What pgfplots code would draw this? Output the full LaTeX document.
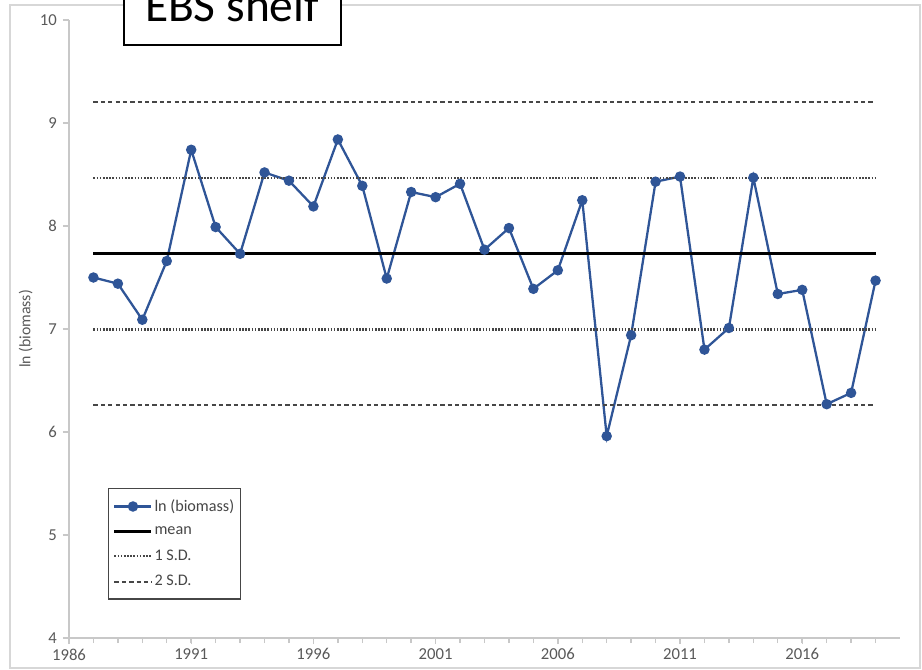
\documentclass[border=0pt]{standalone}
\usepackage{fontspec}
\setmainfont{Carlito}
\usepackage{pgfplots}
\pgfplotsset{compat=1.18}
\definecolor{serblue}{RGB}{47,85,151}
\definecolor{axgray}{RGB}{200,200,200}
\definecolor{lblgray}{RGB}{89,89,89}
\definecolor{sdgray}{RGB}{70,70,70}
\definecolor{framegray}{RGB}{215,215,215}

\begin{document}
\begin{tikzpicture}
% 1 px of the reference = 0.02cm, origin at top left
\path[use as bounding box, clip] (0,0) rectangle (18.44,-13.4);
\draw[framegray, line width=0.6pt] (0.2,-0.1) rectangle (18.4,-13.36);

\begin{axis}[
  at={(1.38cm,-12.76cm)}, anchor=south west,
  width=16.62cm, height=12.36cm, scale only axis,
  xmin=1986, xmax=2020, ymin=4, ymax=10,
  axis x line*=bottom, axis y line*=left,
  axis line style={draw=axgray, line width=0.8pt, -},
  xtick={1986,1991,1996,2001,2006,2011,2016},
  minor xtick={1987,...,2019},
  ytick={4,5,6,7,8,9,10},
  tick align=outside,
  major tick length=0.12cm, minor tick length=0.1cm,
  tick style={draw=axgray, line width=0.8pt},
  x tick label style={/pgf/number format/1000 sep={}, yshift=0.03cm},
  /pgf/number format/assume math mode=true,
  tick label style={font=\fontsize{9.5}{11}\selectfont, text=lblgray},
  ylabel={ln (biomass)},
  ylabel style={at={(axis description cs:-0.052,0.5)}, anchor=center,
    font=\fontsize{9}{11}\selectfont, text=lblgray},
  legend image code/.code={\draw[mark repeat=2,mark phase=2,#1]
    plot coordinates {(0cm,0cm)(0.37cm,0cm)(0.74cm,0cm)};},
  legend style={at={(rel axis cs:0.047,0.2427)}, anchor=north west,
    draw=sdgray, line width=0.8pt, font=\fontsize{9.2}{11}\selectfont,
    text=sdgray, row sep=3.2pt, inner xsep=2.5pt, inner ysep=4pt,
    nodes={inner xsep=1pt}},
  legend cell align=left,
  clip=false,
]
\addplot[serblue, line width=1.3pt, mark=*, mark size=2.3pt,
  mark options={fill=serblue, draw=serblue}] coordinates {
  (1987,7.50)(1988,7.44)(1989,7.09)(1990,7.66)(1991,8.74)(1992,7.99)
  (1993,7.73)(1994,8.52)(1995,8.44)(1996,8.19)(1997,8.84)(1998,8.39)
  (1999,7.49)(2000,8.33)(2001,8.28)(2002,8.41)(2003,7.77)(2004,7.98)
  (2005,7.39)(2006,7.57)(2007,8.25)(2008,5.96)(2009,6.94)(2010,8.43)
  (2011,8.48)(2012,6.80)(2013,7.01)(2014,8.47)(2015,7.34)(2016,7.38)
  (2017,6.27)(2018,6.38)(2019,7.47)};
\addlegendentry{ln (biomass)}
\addplot[black, line width=1.5pt] coordinates {(1987,7.73)(2019,7.73)};
\addlegendentry{mean}
\addplot[sdgray, line width=1.2pt, dash pattern=on 0.9pt off 0.9pt]
  coordinates {(1987,8.465)(2019,8.465)};
\addlegendentry{1 S.D.}
\addplot[sdgray, line width=1.2pt, dash pattern=on 2.4pt off 1.8pt]
  coordinates {(1987,9.20)(2019,9.20)};
\addlegendentry{2 S.D.}
\addplot[forget plot, sdgray, line width=1.2pt, dash pattern=on 0.9pt off 0.9pt]
  coordinates {(1987,6.995)(2019,6.995)};
\addplot[forget plot, sdgray, line width=1.2pt, dash pattern=on 2.4pt off 1.8pt]
  coordinates {(1987,6.26)(2019,6.26)};
\end{axis}

% title box, cut off by the top edge as in the reference
\fill[white] (2.48,-0.9) rectangle (6.82,0.5);
\draw[black, line width=0.7pt] (2.48,-0.9) rectangle (6.82,0.5);
\node[anchor=base, inner sep=0pt, font=\fontsize{27}{30}\selectfont]
  at (4.64,-0.44) {EBS shelf};
\end{tikzpicture}
\end{document}
